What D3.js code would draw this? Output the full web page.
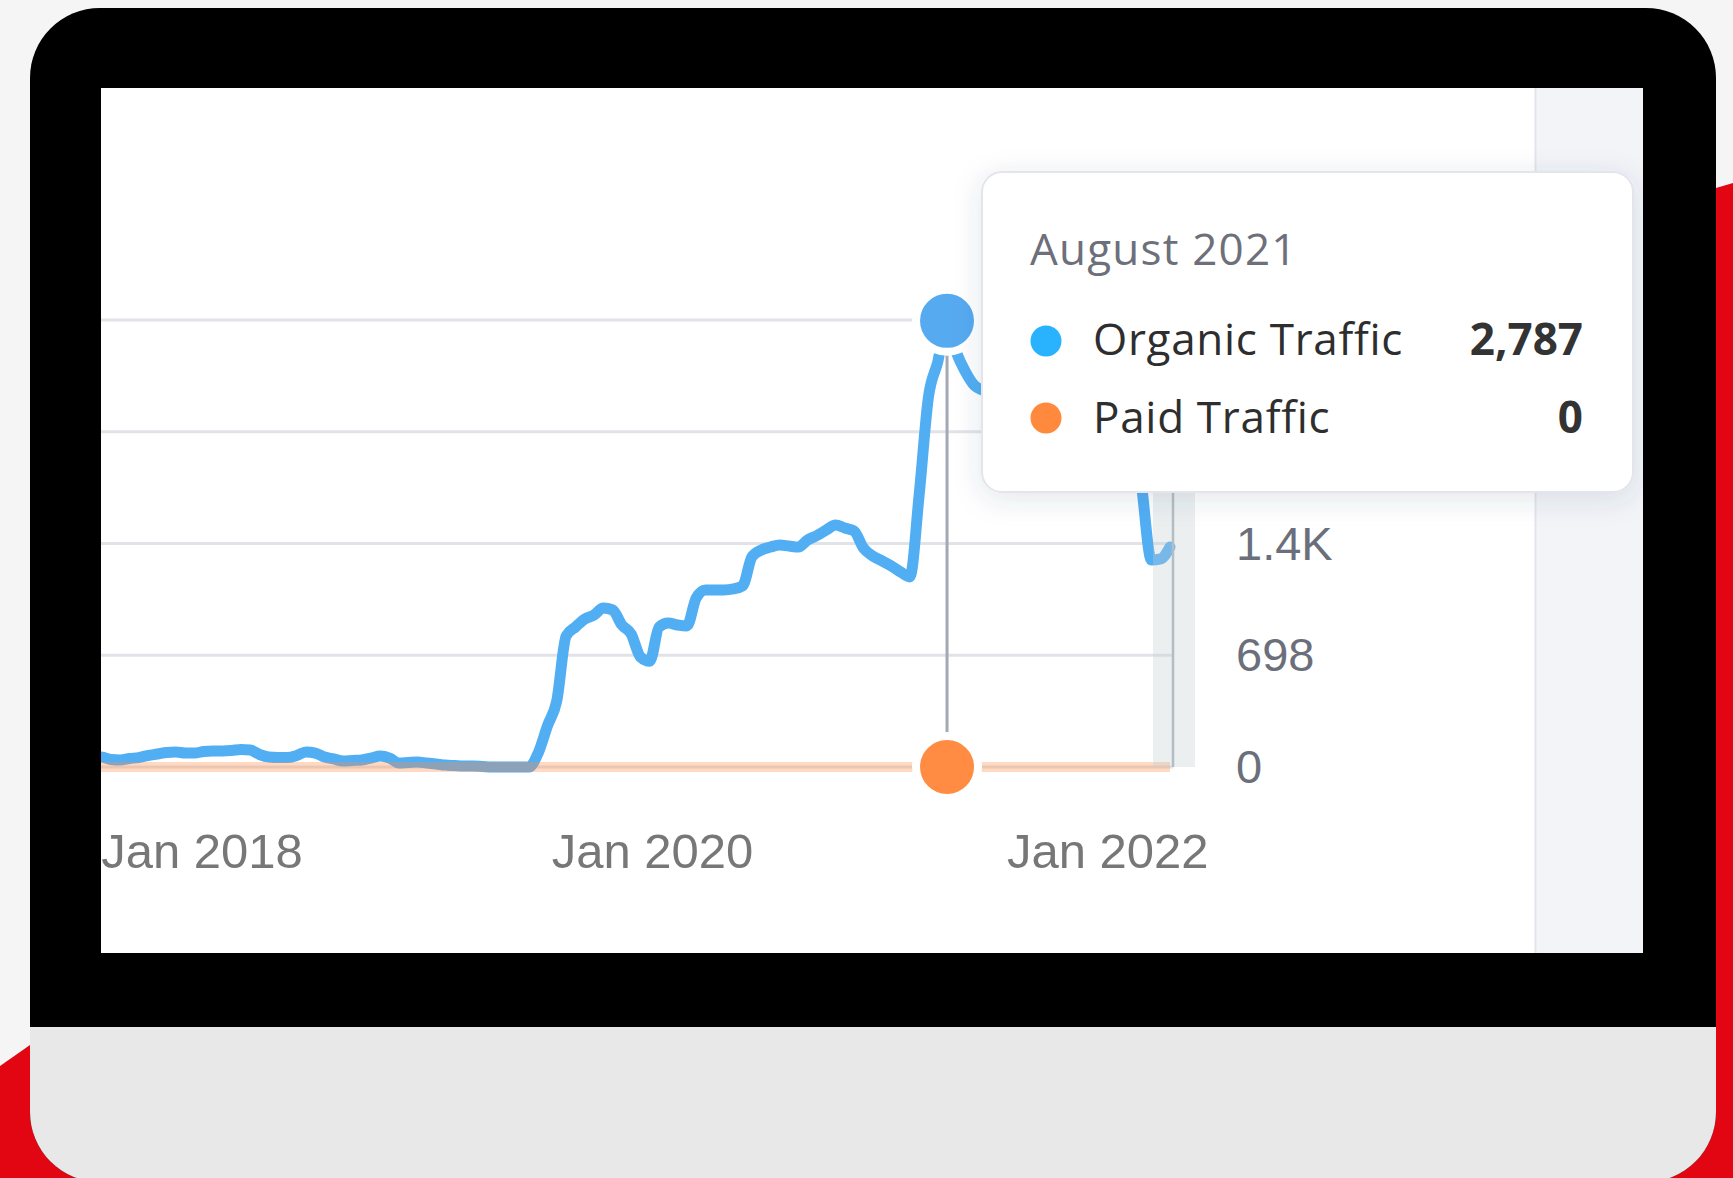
<!DOCTYPE html>
<html>
<head>
<meta charset="utf-8">
<script src="https://cdn.jsdelivr.net/npm/d3@7/dist/d3.min.js"></script>
<style>
html,body{margin:0;padding:0;background:#f5f5f5;overflow:hidden}
svg{display:block}
</style>
</head>
<body>
<svg id="chart" width="1733" height="1178"></svg>
<script>
// ---------------- DATA ----------------
const organicTraffic = [
  62, 62, 47, 44, 53, 59, 72, 81, 91, 94,
  87, 87, 97, 100, 100, 103, 109, 106, 78, 62,
  59, 59, 72, 94, 87, 62, 50, 37, 41, 44,
  56, 69, 56, 25, 28, 31, 25, 19, 12, 9,
  6, 6, 3, 0, 0, 0, 0, 0, 88, 258,
  415, 818, 874, 924, 949, 993, 981, 887, 831, 687,
  660, 874, 899, 887, 881, 1056, 1106, 1106, 1106, 1112,
  1131, 1312, 1355, 1374, 1387, 1380, 1374, 1418, 1446, 1480,
  1512, 1493, 1474, 1368, 1318, 1287, 1255, 1218, 1187, 1700,
  2311, 2530, 2787, 2592, 2467, 2380, 2350, 2310, 2280, 2330,
  2400, 2440, 2390, 2320, 2360, 2420, 2380, 2310, 2270, 2300,
  2340, 2290, 2250, 1730, 1293, 1300, 1374
];
const paidTraffic = [
  0,0,0,0,0,0,0,0,0,0, 0,0,0,0,0,0,0,0,0,0,
  0,0,0,0,0,0,0,0,0,0, 0,0,0,0,0,0,0,0,0,0,
  0,0,0,0,0,0,0,0,0,0, 0,0,0,0,0,0,0,0,0,0,
  0,0,0,0,0,0,0,0,0,0, 0,0,0,0,0,0,0,0,0,0,
  0,0,0,0,0,0,0,0,0,0, 0,0,0,0,0,0,0,0,0,0,
  0,0,0,0,0,0,0,0,0,0, 0,0,0,0,0,0,0
];
const xTickPositions = [11.75, 60.25, 109.25];
const xTickLabels = ["Jan 2018", "Jan 2020", "Jan 2022"];
const gridValues = [0, 698, 1396, 2094, 2792];
const yTickValues = [0, 698, 1396];          // labels visible (upper ones sit under the tooltip)
const yTickLabels = ["0", "698", "1.4K"];
const seriesNames = ["Organic Traffic", "Paid Traffic"];
const seriesColors = ["#29b3ff", "#ff8a3d"];
const tooltipTitle = "August 2021";
const hoverIndex = 92;

// ---------------- DRAW ----------------
const svg = d3.select("#chart");
const defs = svg.append("defs");

defs.append("clipPath").attr("id", "deviceClip")
  .append("rect").attr("x", 30).attr("y", 8).attr("width", 1686).attr("height", 1174).attr("rx", 70).attr("ry", 70);
defs.append("clipPath").attr("id", "screenClip")
  .append("rect").attr("x", 101).attr("y", 88).attr("width", 1542).attr("height", 865);

const shadow = defs.append("filter").attr("id", "tipShadow")
  .attr("x", "-20%").attr("y", "-30%").attr("width", "140%").attr("height", "170%");
shadow.append("feDropShadow").attr("dx", 0).attr("dy", 6).attr("stdDeviation", 14)
  .attr("flood-color", "#3a4060").attr("flood-opacity", 0.13);

// background decoration
svg.append("rect").attr("width", 1733).attr("height", 1178).attr("fill", "#f5f5f5");
svg.append("polygon")
  .attr("points", "0,1066 30,1045 1716,188 1733,183 1733,1178 0,1178")
  .attr("fill", "#e20613");

// device
const dev = svg.append("g").attr("clip-path", "url(#deviceClip)");
dev.append("rect").attr("x", 30).attr("y", 8).attr("width", 1686).attr("height", 1174).attr("fill", "#000");
dev.append("rect").attr("x", 30).attr("y", 1027).attr("width", 1686).attr("height", 160).attr("fill", "#e8e8e8");

// screen
svg.append("rect").attr("x", 101).attr("y", 88).attr("width", 1542).attr("height", 865).attr("fill", "#ffffff");
svg.append("rect").attr("x", 1535).attr("y", 88).attr("width", 108).attr("height", 865).attr("fill", "#f3f4f8");
svg.append("line").attr("x1", 1535.5).attr("x2", 1535.5).attr("y1", 88).attr("y2", 953)
  .attr("stroke", "#e3e5eb").attr("stroke-width", 2);

// scales
const n = organicTraffic.length;
const x = d3.scaleLinear().domain([0, n - 1]).range([92.3, 1170]);
const y = d3.scaleLinear().domain([0, 2792]).range([767, 320]);

const plot = svg.append("g").attr("clip-path", "url(#screenClip)");

// gridlines
plot.append("g").selectAll("line").data(gridValues).join("line")
  .attr("x1", 90).attr("x2", 1173)
  .attr("y1", d => y(d)).attr("y2", d => y(d))
  .attr("stroke", "#e2e3e9").attr("stroke-width", 3);

// organic line
const lineGen = d3.line().x((d, i) => x(i)).y(d => y(d)).curve(d3.curveMonotoneX);
plot.append("path").datum(organicTraffic)
  .attr("d", lineGen)
  .attr("fill", "none").attr("stroke", "#52aef3").attr("stroke-width", 11)
  .attr("stroke-linejoin", "round").attr("stroke-linecap", "round");

// paid line
const paidGen = d3.line().x((d, i) => x(i)).y(d => y(d));
plot.append("path").datum(paidTraffic)
  .attr("d", paidGen)
  .attr("fill", "none").attr("stroke", "#ff8c42").attr("stroke-opacity", 0.33).attr("stroke-width", 10);

// current period band
plot.append("rect").attr("x", 1153).attr("y", 320).attr("width", 42).attr("height", 447)
  .attr("fill", "#c3cdd0").attr("fill-opacity", 0.33);
plot.append("line").attr("x1", 1173).attr("x2", 1173).attr("y1", 320).attr("y2", 767)
  .attr("stroke", "#b3bec2").attr("stroke-width", 2.5);

// hover line + markers
const hx = x(hoverIndex);
plot.append("line").attr("x1", hx).attr("x2", hx)
  .attr("y1", y(organicTraffic[hoverIndex])).attr("y2", y(paidTraffic[hoverIndex]))
  .attr("stroke", "#a4a8b4").attr("stroke-width", 3);
plot.append("circle").attr("cx", hx).attr("cy", y(organicTraffic[hoverIndex])).attr("r", 31)
  .attr("fill", "#56aaf0").attr("stroke", "#fff").attr("stroke-width", 8);
plot.append("circle").attr("cx", hx).attr("cy", y(paidTraffic[hoverIndex])).attr("r", 31)
  .attr("fill", "#ff8c42").attr("stroke", "#fff").attr("stroke-width", 8);

// x axis
const xAxis = d3.axisBottom(x).tickValues(xTickPositions)
  .tickFormat((d, i) => xTickLabels[i]).tickSize(0);
const gx = plot.append("g").attr("transform", "translate(0,767)").call(xAxis);
gx.select(".domain").remove();
gx.selectAll("text")
  .attr("y", 101).attr("dy", 0)
  .attr("font-family", "'Liberation Sans', Arial, Helvetica, sans-serif")
  .attr("font-size", 49).attr("fill", "#777777");

// y axis
const yAxis = d3.axisRight(y).tickValues(yTickValues)
  .tickFormat((d, i) => yTickLabels[i]).tickSize(0).tickPadding(0);
const gy = plot.append("g").attr("transform", "translate(1236,0)").call(yAxis);
gy.select(".domain").remove();
gy.selectAll("text")
  .attr("x", 0).attr("dy", "0.33em").attr("text-anchor", "start")
  .attr("font-family", "'Liberation Sans', Arial, Helvetica, sans-serif")
  .attr("font-size", 47).attr("fill", "#6b6f7b");

// tooltip
const tip = svg.append("g");
tip.append("rect").attr("x", 982).attr("y", 172).attr("width", 651).attr("height", 320)
  .attr("rx", 20).attr("ry", 20)
  .attr("fill", "#ffffff").attr("stroke", "#e3e5eb").attr("stroke-width", 2)
  .attr("filter", "url(#tipShadow)");
tip.append("text").attr("x", 1030).attr("y", 265).text(tooltipTitle)
  .attr("font-family", "'Open Sans', 'Noto Sans', sans-serif")
  .attr("font-size", 44).attr("letter-spacing", 1.2).attr("fill", "#6d6f7a");

const rows = [
  { name: seriesNames[0], color: seriesColors[0], value: organicTraffic[hoverIndex], base: 355, cy: 341 },
  { name: seriesNames[1], color: seriesColors[1], value: paidTraffic[hoverIndex], base: 433, cy: 418 }
];
const fmt = d3.format(",");
const row = tip.selectAll("g.row").data(rows).join("g").attr("class", "row");
row.append("circle").attr("cx", 1046).attr("cy", d => d.cy).attr("r", 15.5).attr("fill", d => d.color);
row.append("text").attr("x", 1093).attr("y", d => d.base).text(d => d.name)
  .attr("font-family", "'Open Sans', 'Noto Sans', sans-serif")
  .attr("font-size", 44).attr("letter-spacing", 0.7).attr("fill", "#2e2e2e");
row.append("text").attr("x", 1583).attr("y", d => d.base).attr("text-anchor", "end").text(d => fmt(d.value))
  .attr("font-family", "'Open Sans', 'Noto Sans', sans-serif")
  .attr("font-size", 44).attr("font-weight", 700).attr("fill", "#333333");
</script>
</body>
</html>
